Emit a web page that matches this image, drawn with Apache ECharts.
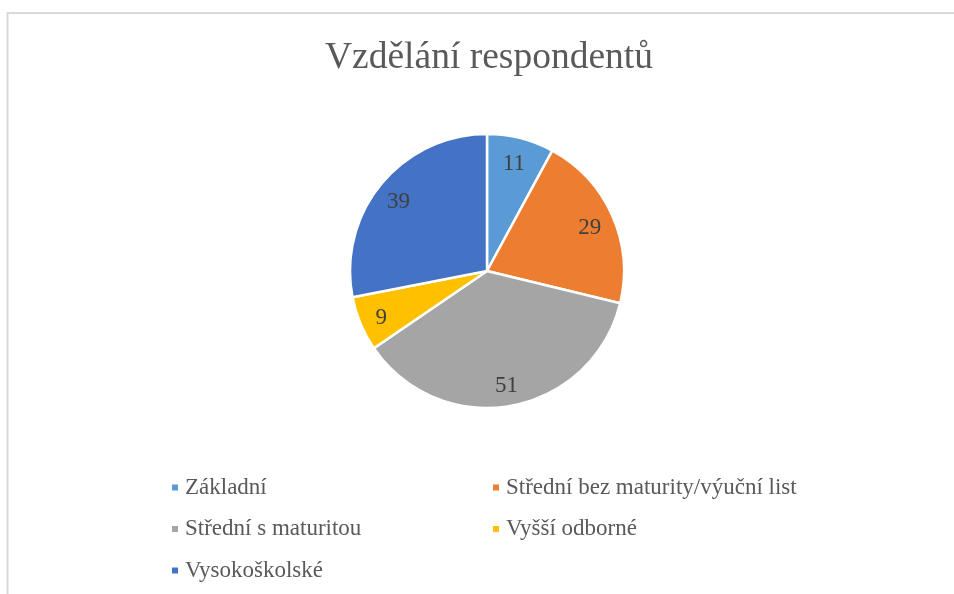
<!DOCTYPE html>
<html>
<head>
<meta charset="utf-8">
<script src="https://cdn.jsdelivr.net/npm/echarts@6/dist/echarts.min.js"></script>
<style>
  html, body { margin: 0; padding: 0; background: #fff; }
  #chart { width: 954px; height: 594px; }
</style>
</head>
<body>
<div id="chart"></div>
<script>
const categories = ['Základní', 'Střední bez maturity/výuční list', 'Střední s maturitou', 'Vyšší odborné', 'Vysokoškolské']
const values = [11, 29, 51, 9, 39]
const colors = ['#5B9BD5', '#ED7D31', '#A5A5A5', '#FFC000', '#4472C4']

const serif = 'Liberation Serif'
const pieData = categories.map((name, i) => ({ name, value: values[i] }))

const chart = echarts.init(document.getElementById('chart'))

const legendBase = {
  orient: 'vertical',
  icon: 'rect',
  itemWidth: 8,
  itemHeight: 8,
  itemGap: 18.5,
  padding: 0,
  selectedMode: false,
  formatter: '{t|{name}}',
  textStyle: {
    fontFamily: serif,
    fontSize: 23,
    color: '#595959',
    rich: { t: { fontFamily: serif, fontSize: 23, color: '#595959', lineHeight: 24, padding: [0, 0, 0, 1] } }
  }
}

chart.setOption({
  animation: false,
  color: colors,
  textStyle: { fontFamily: serif },
  title: {
    text: 'Vzdělání respondentů',
    left: 320,
    top: 34,
    textStyle: { fontFamily: serif, fontSize: 37.5, fontWeight: 'normal', color: '#595959' }
  },
  graphic: [{
    type: 'rect',
    shape: { x: 7.5, y: 13, width: 950, height: 600 },
    style: { fill: 'none', stroke: '#d9d9d9', lineWidth: 2 },
    silent: true
  }],
  legend: [
    Object.assign({}, legendBase, { left: 170, top: 476, data: [categories[0], categories[2], categories[4]] }),
    Object.assign({}, legendBase, { left: 491, top: 476, data: [categories[1], categories[3]] })
  ],
  series: [
    {
      type: 'pie',
      center: [487, 271],
      radius: [0, 137],
      startAngle: 90,
      clockwise: true,
      itemStyle: { borderColor: '#fff', borderWidth: 2.5 },
      label: { show: false },
      labelLine: { show: false },
      emphasis: { disabled: true },
      data: pieData
    },
    {
      // label ring, drawn transparent so labels sit near the outer edge
      type: 'pie',
      center: [486, 274],
      radius: [84, 137],
      startAngle: 90,
      clockwise: true,
      silent: true,
      itemStyle: { color: 'rgba(0,0,0,0)', borderWidth: 0 },
      label: {
        show: true,
        position: 'inside',
        formatter: '{c}',
        fontFamily: serif,
        fontSize: 23,
        color: '#404040'
      },
      labelLine: { show: false },
      emphasis: { disabled: true },
      legendHoverLink: false,
      data: pieData
    }
  ]
})
</script>
</body>
</html>
